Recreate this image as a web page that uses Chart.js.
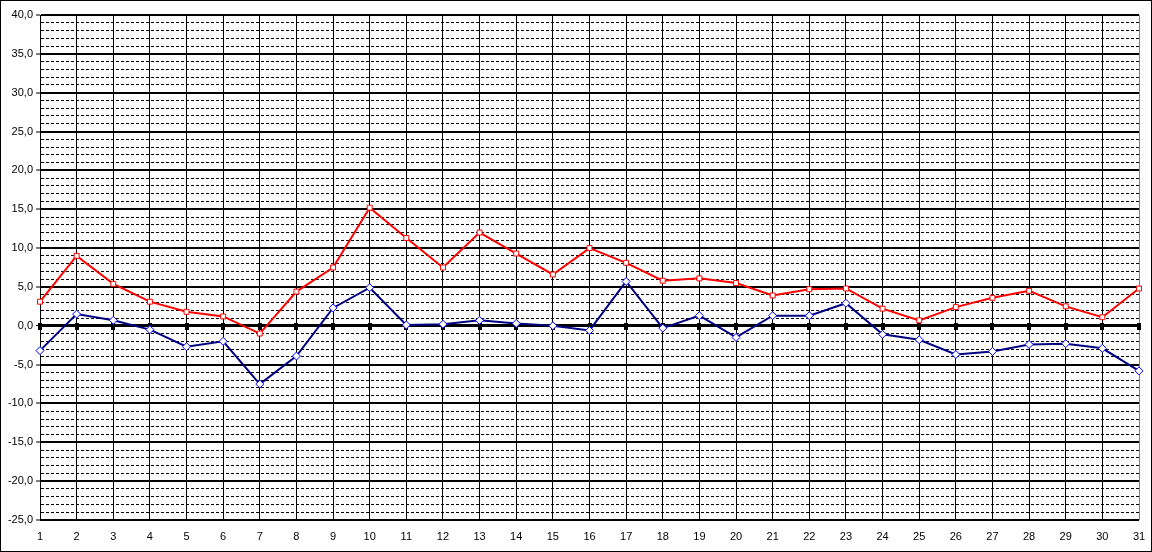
<!DOCTYPE html>
<html>
<head>
<meta charset="utf-8">
<script src="https://cdn.jsdelivr.net/npm/chart.js@4"></script>
<style>
  html, body { margin: 0; padding: 0; background: #fff; }
  #wrap { position: absolute; left: 0; top: 0; width: 1152px; height: 552px; box-sizing: border-box; border: 1px solid #000; }
  canvas { display: block; }
</style>
</head>
<body>
<div id="wrap"><canvas id="chart" width="1150" height="550"></canvas></div>
<script>
const days = ['1','2','3','4','5','6','7','8','9','10','11','12','13','14','15','16',
              '17','18','19','20','21','22','23','24','25','26','27','28','29','30','31'];
const maxTemp = [3.1, 9.0, 5.4, 3.1, 1.8, 1.2, -1.0, 4.4, 7.5, 15.2, 11.3, 7.5, 12.0, 9.3, 6.6, 10.0,
                 8.1, 5.8, 6.1, 5.5, 3.9, 4.7, 4.8, 2.2, 0.7, 2.4, 3.6, 4.5, 2.5, 1.1, 4.8];
const minTemp = [-3.2, 1.5, 0.7, -0.5, -2.7, -2.0, -7.5, -3.9, 2.3, 4.9, 0.1, 0.2, 0.7, 0.3, 0.0, -0.6,
                 5.7, -0.3, 1.3, -1.5, 1.3, 1.3, 2.9, -1.1, -1.8, -3.7, -3.3, -2.4, -2.3, -2.9, -5.8];
const yMin = -25;
const yMax = 40;
const yMajorStep = 5;

const isMajor = v => Math.abs(v % yMajorStep) < 1e-9;

// small black marks on the zero line, one per day (Excel's category axis ticks)
const zeroTicks = {
  id: 'zeroTicks',
  beforeDatasetsDraw(chart) {
    const { ctx, scales: { x, y } } = chart;
    const py = Math.round(y.getPixelForValue(0));
    ctx.save();
    ctx.fillStyle = '#000';
    days.forEach((d, i) => {
      const px = Math.round(x.getPixelForValue(i));
      ctx.fillRect(px - 2, py - 3, 4, 7);
    });
    ctx.restore();
  }
};

new Chart(document.getElementById('chart'), {
  type: 'line',
  data: {
    labels: days,
    datasets: [{
      data: maxTemp,
      borderColor: '#ff0000',
      borderWidth: 2,
      tension: 0,
      pointStyle: 'rect',
      pointRadius: 3.5,
      pointBorderWidth: 1,
      pointBackgroundColor: '#ffffff',
      pointBorderColor: '#ff0000'
    }, {
      data: minTemp,
      borderColor: '#000080',
      borderWidth: 2,
      tension: 0,
      pointStyle: 'rectRot',
      pointRadius: 4,
      pointBorderWidth: 1,
      pointBackgroundColor: '#ffffff',
      pointBorderColor: '#0000ff'
    }]
  },
  options: {
    responsive: false,
    animation: false,
    layout: { padding: { left: 0, right: 12, top: 14, bottom: 0 } },
    plugins: { legend: { display: false }, tooltip: { enabled: false } },
    scales: {
      x: {
        offset: false,
        afterFit: s => { s.height = 31; s.paddingLeft = 0; s.paddingRight = 0; },
        grid: {
          drawTicks: false,
          color: c => (c.index === days.length - 1 ? '#808080' : '#000000'),
          lineWidth: 1
        },
        border: { display: false },
        ticks: {
          autoSkip: false,
          maxRotation: 0,
          padding: 10,
          color: '#000',
          font: { family: 'Liberation Sans, Arial', size: 11 }
        }
      },
      y: {
        min: yMin,
        max: yMax,
        afterFit: s => { s.width = 39; },
        grid: {
          color: '#000',
          lineWidth: c => {
            if (!c.tick) return 1;
            if (c.tick.value === 0) return 3;
            return isMajor(c.tick.value) ? 2 : 1;
          },
          tickLength: 4,
          tickColor: c => (c.tick && isMajor(c.tick.value) ? '#000' : 'rgba(0,0,0,0)'),
          tickWidth: 1
        },
        border: {
          display: true,
          color: '#000',
          width: 1,
          dash: c => (c.tick && !isMajor(c.tick.value) ? [3, 2] : [])
        },
        ticks: {
          stepSize: 1,
          autoSkip: false,
          padding: 3,
          color: '#000',
          font: { family: 'Liberation Sans, Arial', size: 11 },
          callback: v => (isMajor(v) ? v.toFixed(1).replace('.', ',') : '')
        }
      }
    }
  },
  plugins: [zeroTicks]
});
</script>
</body>
</html>
